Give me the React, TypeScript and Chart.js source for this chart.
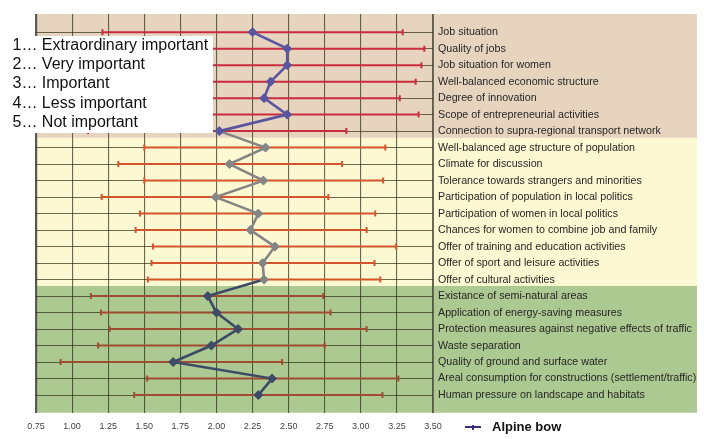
import React, { useEffect, useRef } from 'react';
import { Chart, registerables } from 'chart.js';

Chart.register(...registerables);

const categories = [
  'Job situation',
  'Quality of jobs',
  'Job situation for women',
  'Well-balanced economic structure',
  'Degree of innovation',
  'Scope of entrepreneurial activities',
  'Connection to supra-regional transport network',
  'Well-balanced age structure of population',
  'Climate for discussion',
  'Tolerance towards strangers and minorities',
  'Participation of population in local politics',
  'Participation of women in local politics',
  'Chances for women to combine job and family',
  'Offer of training and education activities',
  'Offer of sport and leisure activities',
  'Offer of cultural activities',
  'Existance of semi-natural areas',
  'Application of energy-saving measures',
  'Protection measures against negative effects of traffic',
  'Waste separation',
  'Quality of ground and surface water',
  'Areal consumption for constructions (settlement/traffic)',
  'Human pressure on landscape and habitats',
];

// 0 = economy, 1 = society, 2 = environment
const groups = [0, 0, 0, 0, 0, 0, 0, 1, 1, 1, 1, 1, 1, 1, 1, 1, 2, 2, 2, 2, 2, 2, 2];

const means = [2.25, 2.49, 2.49, 2.375, 2.33, 2.49, 2.02, 2.34, 2.09, 2.325, 1.995, 2.29, 2.235, 2.405, 2.32, 2.33, 1.94, 2.0, 2.15, 1.965, 1.7, 2.385, 2.29];
const mins = [1.21, 1.25, 1.3, 1.2, 1.25, 1.15, 1.11, 1.5, 1.32, 1.5, 1.205, 1.47, 1.44, 1.56, 1.55, 1.525, 1.13, 1.2, 1.26, 1.18, 0.92, 1.52, 1.43];
const maxs = [3.29, 3.44, 3.42, 3.38, 3.27, 3.4, 2.9, 3.17, 2.87, 3.155, 2.775, 3.1, 3.04, 3.245, 3.095, 3.135, 2.74, 2.79, 3.04, 2.75, 2.455, 3.26, 3.15];

const xTicks = [0.75, 1.0, 1.25, 1.5, 1.75, 2.0, 2.25, 2.5, 2.75, 3.0, 3.25, 3.5];

const scaleLegend = [
  '1\u2026 Extraordinary important',
  '2\u2026 Very important',
  '3\u2026 Important',
  '4\u2026 Less important',
  '5\u2026 Not important',
];

const seriesName = 'Alpine bow';

const bandColors = ['#E7D4BF', '#FCF8D2', '#ABC991'];
const lineColors = ['#5A559F', '#858585', '#3E4A66'];
const barColors = ['#CB2B3E', '#D4552C', '#A24B33'];

const FONT = '"Liberation Sans", Arial, Helvetica, sans-serif';

const bandsPlugin = {
  id: 'bands',
  beforeDraw(chart: any) {
    const { ctx, chartArea, scales } = chart;
    const y = scales.y;
    const b1 = y.getPixelForValue(6.41);
    const b2 = y.getPixelForValue(15.39);
    const right = 697;
    ctx.save();
    ctx.fillStyle = bandColors[0];
    ctx.fillRect(chartArea.left, chartArea.top, right - chartArea.left, b1 - chartArea.top);
    ctx.fillStyle = bandColors[1];
    ctx.fillRect(chartArea.left, b1, right - chartArea.left, b2 - b1);
    ctx.fillStyle = bandColors[2];
    ctx.fillRect(chartArea.left, b2, right - chartArea.left, chartArea.bottom - b2);
    ctx.restore();
  },
};

export default function App() {
  const canvasRef = useRef<HTMLCanvasElement | null>(null);

  useEffect(() => {
    if (!canvasRef.current) return;

    const errorSets = categories.map((_, i) => ({
      type: 'line' as const,
      data: [
        { x: mins[i], y: i },
        { x: maxs[i], y: i },
      ],
      borderColor: barColors[groups[i]],
      borderWidth: 2,
      pointStyle: 'line',
      rotation: 90,
      pointRadius: 3,
      pointBorderWidth: 2,
      pointBorderColor: barColors[groups[i]],
      order: 2,
    }));

    const chart = new Chart(canvasRef.current, {
      type: 'scatter',
      data: {
        datasets: [
          {
            type: 'line' as const,
            label: seriesName,
            data: means.map((m, i) => ({ x: m, y: i })),
            borderColor: lineColors[0],
            borderWidth: 2.6,
            segment: {
              borderColor: (ctx: any) => lineColors[groups[ctx.p1DataIndex]],
            },
            pointStyle: 'rectRot',
            pointRadius: 4.5,
            pointBackgroundColor: means.map((_, i) => lineColors[groups[i]]),
            pointBorderColor: means.map((_, i) => lineColors[groups[i]]),
            pointBorderWidth: 1,
            order: 1,
          } as any,
          ...(errorSets as any[]),
        ],
      },
      options: {
        animation: false,
        responsive: true,
        maintainAspectRatio: false,
        layout: { padding: { left: 36, top: 14, right: 0, bottom: 0 } },
        plugins: {
          legend: { display: false },
          tooltip: { enabled: false },
        },
        scales: {
          x: {
            type: 'linear',
            position: 'bottom',
            min: 0.75,
            max: 3.5,
            afterBuildTicks: (axis: any) => {
              axis.ticks = xTicks.map((v) => ({ value: v }));
            },
            afterFit: (scale: any) => {
              scale.height = 26.3;
            },
            grid: {
              color: (c: any) => (c.index === 0 ? '#5a5a50' : 'rgba(45,45,20,0.7)'),
              lineWidth: (c: any) => (c.index === 0 ? 2.2 : 1.1),
              drawTicks: false,
            },
            border: { display: false },
            ticks: {
              autoSkip: false,
              maxRotation: 0,
              padding: 8,
              color: '#444',
              font: { family: FONT, size: 9 },
              callback: (v: any) => Number(v).toFixed(2),
            },
          },
          y: {
            type: 'linear',
            position: 'right',
            reverse: true,
            min: -1.1,
            max: 23.07,
            afterBuildTicks: (axis: any) => {
              axis.ticks = categories.map((_, i) => ({ value: i }));
            },
            afterFit: (scale: any) => {
              scale.width = 271;
            },
            grid: {
              color: 'rgba(45,45,20,0.7)',
              lineWidth: 1,
              drawTicks: false,
            },
            border: { display: true, color: '#6a6a60', width: 1 },
            ticks: {
              autoSkip: false,
              padding: 5,
              color: '#262626',
              font: { family: FONT, size: 10.7 },
              callback: (v: any) => categories[Math.round(Number(v))] ?? '',
            },
          },
        },
      } as any,
      plugins: [bandsPlugin],
    });

    return () => chart.destroy();
  }, []);

  return (
    <div style={{ position: 'absolute', left: 0, top: 0, width: 704, height: 439, background: '#fff', overflow: 'hidden' }}>
      <canvas ref={canvasRef} style={{ position: 'absolute', left: 0, top: 0, width: 704, height: 439 }} />
      <div
        style={{
          position: 'absolute',
          left: 0,
          top: 36,
          width: 213,
          height: 97,
          background: '#fff',
        }}
      >
        {scaleLegend.map((t, i) => (
          <div
            key={i}
            style={{
              position: 'absolute',
              left: 12.5,
              top: i * 19.2 - 1,
              height: 19,
              lineHeight: '19px',
              fontFamily: FONT,
              fontSize: 16,
              color: '#111',
              whiteSpace: 'nowrap',
            }}
          >
            {t}
          </div>
        ))}
      </div>
      <div style={{ position: 'absolute', left: 465, top: 426, width: 16, height: 2, background: '#3B2C7A' }} />
      <div style={{ position: 'absolute', left: 472, top: 424.5, width: 2, height: 5, background: '#3B2C7A' }} />
      <div
        style={{
          position: 'absolute',
          left: 492,
          top: 418,
          lineHeight: '18px',
          fontFamily: FONT,
          fontSize: 13,
          fontWeight: 'bold',
          color: '#111',
          whiteSpace: 'nowrap',
        }}
      >
        {seriesName}
      </div>
    </div>
  );
}
